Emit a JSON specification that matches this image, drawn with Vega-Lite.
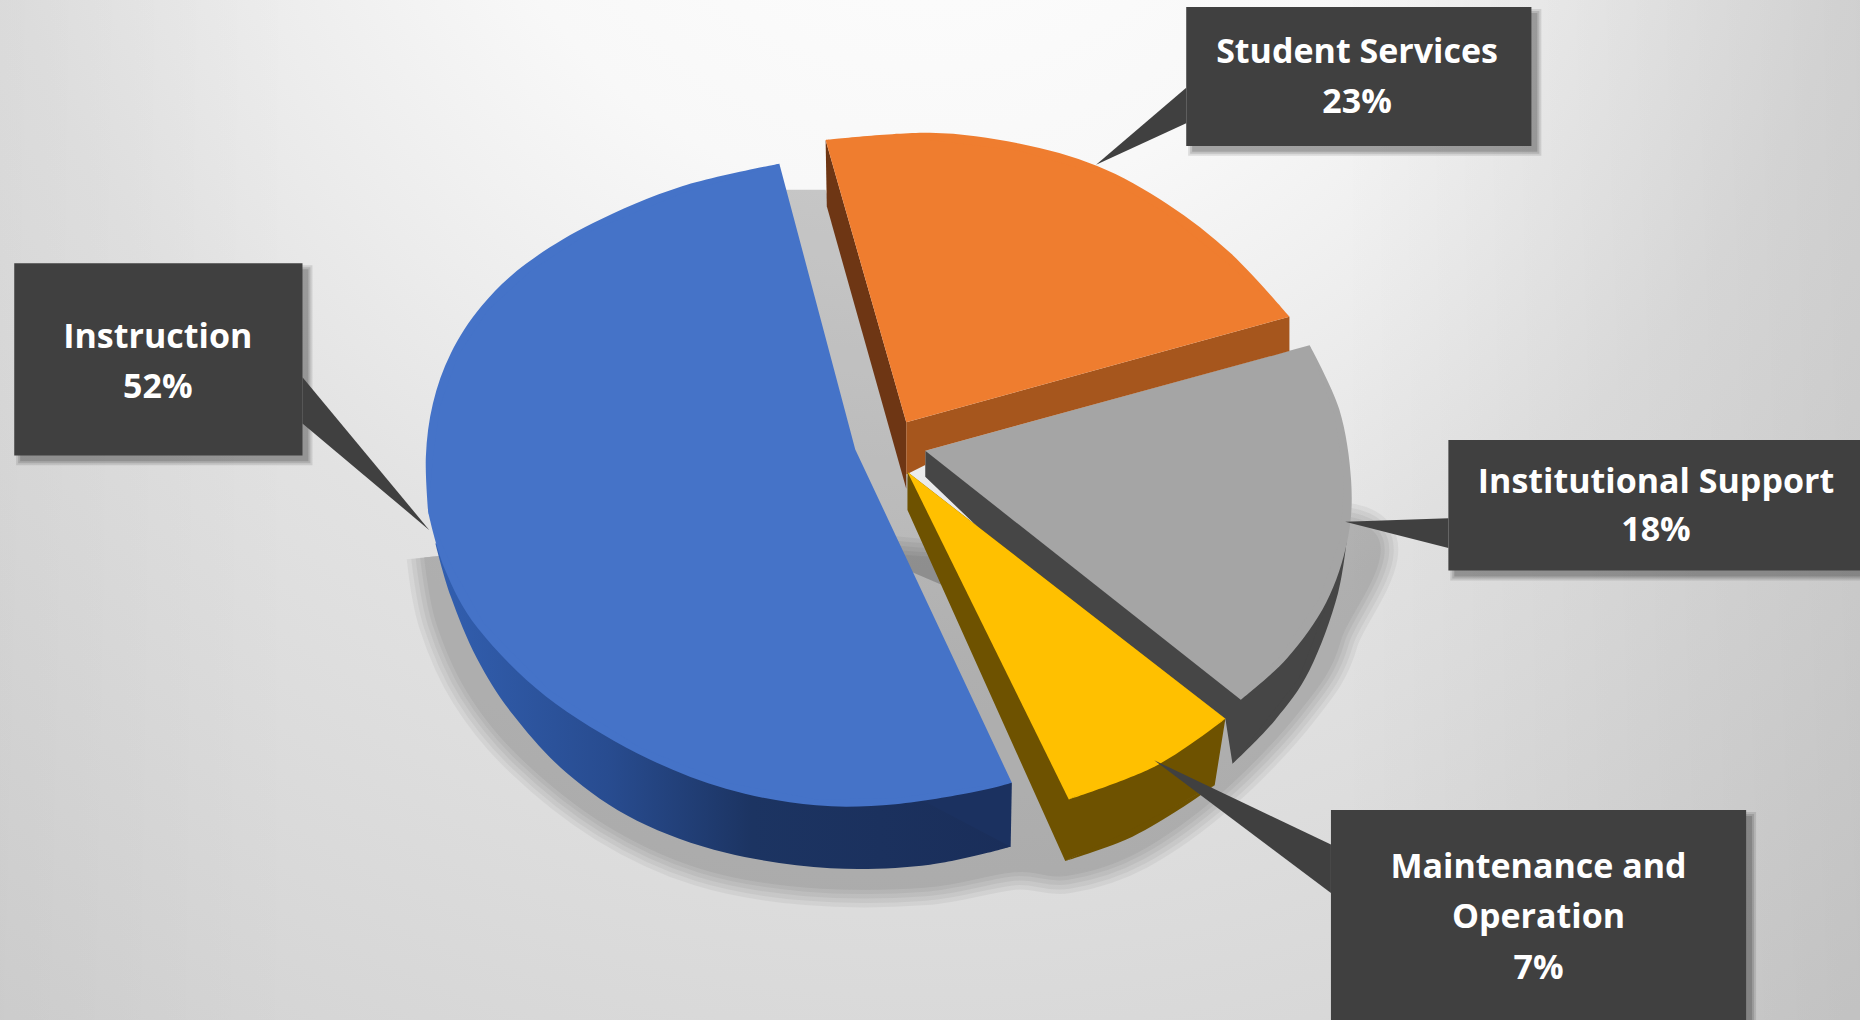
{"$schema":"https://vega.github.io/schema/vega-lite/v6.json","width":1860,"height":1020,"autosize":"none","padding":0,"background":"#ffffff","config":{"view":{"stroke":null}},
"datasets":{
"rects":[
{"part":"bg","x":0,"x2":1568,"y":0,"y2":860},
{"part":"boxShadow","x":17,"x2":260,"y":227,"y2":389},{"part":"boxShadow","x":1005,"x2":1296,"y":11,"y2":128},{"part":"boxShadow","x":1226,"x2":1568,"y":376,"y2":486},{"part":"boxShadow","x":1127,"x2":1477,"y":688,"y2":860},
{"part":"box","x":12,"x2":255,"y":222,"y2":384},{"part":"box","x":1000,"x2":1291,"y":6,"y2":123},{"part":"box","x":1221,"x2":1568,"y":371,"y2":481},{"part":"box","x":1122,"x2":1472,"y":683,"y2":860}],
"shapes":[
{"part":"shadow","i":1,"x":358,"y":470},{"part":"shadow","i":2,"x":368,"y":525},{"part":"shadow","i":3,"x":395,"y":585},{"part":"shadow","i":4,"x":440,"y":640},{"part":"shadow","i":5,"x":510,"y":695},{"part":"shadow","i":6,"x":590,"y":732},{"part":"shadow","i":7,"x":680,"y":748},{"part":"shadow","i":8,"x":780,"y":748},{"part":"shadow","i":9,"x":855,"y":735},{"part":"shadow","i":10,"x":900,"y":738},{"part":"shadow","i":11,"x":960,"y":718},{"part":"shadow","i":12,"x":1030,"y":668},{"part":"shadow","i":13,"x":1095,"y":600},{"part":"shadow","i":14,"x":1130,"y":540},{"part":"shadow","i":15,"x":1140,"y":440},{"part":"shadow","i":16,"x":800,"y":470},{"part":"shadow","i":17,"x":640,"y":440},
{"part":"gap","i":1,"x":650,"y":160},{"part":"gap","i":2,"x":696,"y":160},{"part":"gap","i":3,"x":764,"y":400},{"part":"gap","i":4,"x":810,"y":500},{"part":"gap","i":5,"x":740,"y":470},{"part":"gap","i":6,"x":700,"y":379},
{"part":"greySideArc","i":1,"x":1137,"y":440},{"part":"greySideArc","i":2,"x":1128,"y":500},{"part":"greySideArc","i":3,"x":1104,"y":565},{"part":"greySideArc","i":4,"x":1075,"y":607},{"part":"greySideArc","i":5,"x":1039,"y":644},
{"part":"greySide","i":1,"x":780,"y":380},{"part":"greySide","i":2,"x":780,"y":402},{"part":"greySide","i":3,"x":826,"y":446},{"part":"greySide","i":4,"x":1033,"y":606},{"part":"greySide","i":5,"x":1039,"y":644},{"part":"greySide","i":6,"x":1095,"y":572},{"part":"greySide","i":7,"x":1123,"y":498},{"part":"greySide","i":8,"x":1137,"y":440},
{"part":"greyArc","i":1,"x":1104,"y":291},{"part":"greyArc","i":2,"x":1129,"y":345},{"part":"greyArc","i":3,"x":1139,"y":405},{"part":"greyArc","i":4,"x":1136,"y":455},{"part":"greyArc","i":5,"x":1118,"y":508},{"part":"greyArc","i":6,"x":1085,"y":555},{"part":"greyArc","i":7,"x":1046,"y":590},
{"part":"grey","i":1,"x":780,"y":380},{"part":"grey","i":2,"x":1104,"y":291},{"part":"grey","i":3,"x":1125,"y":350},{"part":"grey","i":4,"x":1133,"y":405},{"part":"grey","i":5,"x":1130,"y":455},{"part":"grey","i":6,"x":1112,"y":505},{"part":"grey","i":7,"x":1080,"y":552},{"part":"grey","i":8,"x":1046,"y":590},
{"part":"orangeDark","i":1,"x":696,"y":118},{"part":"orangeDark","i":2,"x":764,"y":356},{"part":"orangeDark","i":3,"x":764,"y":412},{"part":"orangeDark","i":4,"x":697,"y":174},
{"part":"orangeFront","i":1,"x":764,"y":356},{"part":"orangeFront","i":2,"x":1087,"y":267},{"part":"orangeFront","i":3,"x":1087,"y":296},{"part":"orangeFront","i":4,"x":780,"y":380},{"part":"orangeFront","i":5,"x":780,"y":392},{"part":"orangeFront","i":6,"x":764,"y":400},
{"part":"orangeArc","i":1,"x":696,"y":118},{"part":"orangeArc","i":2,"x":784,"y":112},{"part":"orangeArc","i":3,"x":859,"y":121},{"part":"orangeArc","i":4,"x":925,"y":140},{"part":"orangeArc","i":5,"x":984,"y":172},{"part":"orangeArc","i":6,"x":1038,"y":214},{"part":"orangeArc","i":7,"x":1087,"y":267},
{"part":"orange","i":1,"x":764,"y":356},{"part":"orange","i":2,"x":696,"y":118},{"part":"orange","i":3,"x":784,"y":118},{"part":"orange","i":4,"x":859,"y":127},{"part":"orange","i":5,"x":925,"y":146},{"part":"orange","i":6,"x":980,"y":178},{"part":"orange","i":7,"x":1030,"y":218},{"part":"orange","i":8,"x":1087,"y":267},
{"part":"brownArc","i":1,"x":898,"y":726},{"part":"brownArc","i":2,"x":949,"y":708},{"part":"brownArc","i":3,"x":990,"y":685},{"part":"brownArc","i":4,"x":1024,"y":662},
{"part":"brown","i":1,"x":765,"y":398},{"part":"brown","i":2,"x":765,"y":430},{"part":"brown","i":3,"x":898,"y":726},{"part":"brown","i":4,"x":949,"y":702},{"part":"brown","i":5,"x":990,"y":680},{"part":"brown","i":6,"x":1024,"y":662},{"part":"brown","i":7,"x":1033,"y":606},
{"part":"yellowArc","i":1,"x":1033,"y":606},{"part":"yellowArc","i":2,"x":974,"y":646},{"part":"yellowArc","i":3,"x":901,"y":674},
{"part":"yellow","i":1,"x":765,"y":398},{"part":"yellow","i":2,"x":1033,"y":606},{"part":"yellow","i":3,"x":974,"y":640},{"part":"yellow","i":4,"x":901,"y":674},
{"part":"blueSideEnd","i":1,"x":690,"y":640},{"part":"blueSideEnd","i":2,"x":853,"y":660},{"part":"blueSideEnd","i":3,"x":852,"y":714},{"part":"blueSideEnd","i":4,"x":690,"y":725},
{"part":"blueSide","i":1,"x":367,"y":458},{"part":"blueSide","i":2,"x":380,"y":503},{"part":"blueSide","i":3,"x":402,"y":555},{"part":"blueSide","i":4,"x":432,"y":602},{"part":"blueSide","i":5,"x":478,"y":652},{"part":"blueSide","i":6,"x":537,"y":692},{"part":"blueSide","i":7,"x":612,"y":719},{"part":"blueSide","i":8,"x":700,"y":732},{"part":"blueSide","i":9,"x":784,"y":729},{"part":"blueSide","i":10,"x":852,"y":714},
{"part":"blueArcA","i":1,"x":657,"y":138},{"part":"blueArcA","i":2,"x":575,"y":157},{"part":"blueArcA","i":3,"x":500,"y":188},{"part":"blueArcA","i":4,"x":444,"y":222},{"part":"blueArcA","i":5,"x":406,"y":258},{"part":"blueArcA","i":6,"x":380,"y":298},{"part":"blueArcA","i":7,"x":365,"y":340},{"part":"blueArcA","i":8,"x":359,"y":385},{"part":"blueArcA","i":9,"x":361,"y":432},
{"part":"blueArcB","i":1,"x":361,"y":432},{"part":"blueArcB","i":2,"x":375,"y":480},{"part":"blueArcB","i":3,"x":403,"y":530},{"part":"blueArcB","i":4,"x":460,"y":587},{"part":"blueArcB","i":5,"x":537,"y":635},{"part":"blueArcB","i":6,"x":612,"y":665},{"part":"blueArcB","i":7,"x":688,"y":679},{"part":"blueArcB","i":8,"x":755,"y":678},{"part":"blueArcB","i":9,"x":820,"y":668},{"part":"blueArcB","i":10,"x":853,"y":660},
{"part":"blue","i":1,"x":657,"y":138},{"part":"blue","i":2,"x":575,"y":163},{"part":"blue","i":3,"x":500,"y":194},{"part":"blue","i":4,"x":448,"y":228},{"part":"blue","i":5,"x":411,"y":262},{"part":"blue","i":6,"x":386,"y":300},{"part":"blue","i":7,"x":371,"y":342},{"part":"blue","i":8,"x":365,"y":385},{"part":"blue","i":9,"x":361,"y":432},{"part":"blue","i":10,"x":381,"y":478},{"part":"blue","i":11,"x":408,"y":526},{"part":"blue","i":12,"x":463,"y":582},{"part":"blue","i":13,"x":539,"y":630},{"part":"blue","i":14,"x":613,"y":660},{"part":"blue","i":15,"x":688,"y":674},{"part":"blue","i":16,"x":755,"y":673},{"part":"blue","i":17,"x":820,"y":664},{"part":"blue","i":18,"x":853,"y":660},{"part":"blue","i":19,"x":753,"y":447},{"part":"blue","i":20,"x":721,"y":379},
{"part":"tailA","i":1,"x":255,"y":318},{"part":"tailA","i":2,"x":255,"y":357},{"part":"tailA","i":3,"x":362,"y":447},
{"part":"tailB","i":1,"x":1000,"y":74},{"part":"tailB","i":2,"x":1000,"y":104},{"part":"tailB","i":3,"x":924,"y":139},
{"part":"tailC","i":1,"x":1221,"y":437},{"part":"tailC","i":2,"x":1221,"y":462},{"part":"tailC","i":3,"x":1134,"y":440},
{"part":"tailD","i":1,"x":1122,"y":712},{"part":"tailD","i":2,"x":1122,"y":753},{"part":"tailD","i":3,"x":973,"y":641}],
"labels":[
{"x":1144,"y":45,"t":"Student Services"},{"x":1144,"y":87,"t":"23%"},
{"x":133,"y":285,"t":"Instruction"},{"x":133,"y":327,"t":"52%"},
{"x":1396,"y":407,"t":"Institutional  Support"},{"x":1396,"y":448,"t":"18%"},
{"x":1297,"y":732,"t":"Maintenance and"},{"x":1297,"y":774,"t":"Operation"},{"x":1297,"y":817,"t":"7%"}]},
"data":{"name":"shapes"},
"encoding":{
"x":{"field":"x","type":"quantitative","axis":null,"scale":{"domain":[0,1568],"nice":false,"zero":false}},
"y":{"field":"y","type":"quantitative","axis":null,"scale":{"domain":[860,0],"nice":false,"zero":false}},
"order":{"field":"i"}
},
"layer":[
{"data":{"name":"rects"},"transform":[{"filter":"datum.part==='bg'"}],"mark":{"type":"rect","color":{"gradient":"radial","x1":0.5,"y1":0.08,"r1":0,"x2":0.5,"y2":0.08,"r2":0.85,"stops":[{"offset":0,"color":"#ffffff"},{"offset":0.3,"color":"#f8f8f8"},{"offset":0.6,"color":"#e2e2e2"},{"offset":1,"color":"#d2d2d2"}]}},"encoding":{"x2":{"field":"x2"},"y2":{"field":"y2"}}},
{"data":{"name":"rects"},"transform":[{"filter":"datum.part==='bg'"}],"mark":{"type":"rect","color":{"gradient":"linear","x1":0,"y1":0,"x2":1,"y2":0,"stops":[{"offset":0,"color":"rgba(0,0,0,0.03)"},{"offset":0.16,"color":"rgba(0,0,0,0)"},{"offset":0.72,"color":"rgba(0,0,0,0)"},{"offset":1,"color":"rgba(0,0,0,0.08)"}]}},"encoding":{"x2":{"field":"x2"},"y2":{"field":"y2"}}},
{"transform":[{"filter":"datum.part==='gap'"}],"mark":{"type":"line","fill":"#000000","fillOpacity":0.2,"stroke":null}},
{"transform":[{"filter":"datum.part==='shadow'"}],"mark":{"type":"line","interpolate":"cardinal","fill":"#000000","stroke":"#000000","strokeWidth":36,"strokeJoin":"round","opacity":0.042}},
{"transform":[{"filter":"datum.part==='shadow'"}],"mark":{"type":"line","interpolate":"cardinal","fill":"#000000","stroke":"#000000","strokeWidth":27,"strokeJoin":"round","opacity":0.042}},
{"transform":[{"filter":"datum.part==='shadow'"}],"mark":{"type":"line","interpolate":"cardinal","fill":"#000000","stroke":"#000000","strokeWidth":18,"strokeJoin":"round","opacity":0.042}},
{"transform":[{"filter":"datum.part==='shadow'"}],"mark":{"type":"line","interpolate":"cardinal","fill":"#000000","stroke":"#000000","strokeWidth":9,"strokeJoin":"round","opacity":0.042}},
{"transform":[{"filter":"datum.part==='shadow'"}],"mark":{"type":"line","interpolate":"cardinal","fill":"#000000","stroke":"#000000","strokeWidth":1,"strokeJoin":"round","opacity":0.042}},
{"data":{"name":"rects"},"transform":[{"filter":"datum.part==='boxShadow'"}],"mark":{"type":"rect","color":"#000000","stroke":"#000000","strokeWidth":8,"opacity":0.1},"encoding":{"x2":{"field":"x2"},"y2":{"field":"y2"}}},
{"data":{"name":"rects"},"transform":[{"filter":"datum.part==='boxShadow'"}],"mark":{"type":"rect","color":"#000000","stroke":"#000000","strokeWidth":4,"opacity":0.12},"encoding":{"x2":{"field":"x2"},"y2":{"field":"y2"}}},
{"data":{"name":"rects"},"transform":[{"filter":"datum.part==='boxShadow'"}],"mark":{"type":"rect","color":"#000000","opacity":0.15},"encoding":{"x2":{"field":"x2"},"y2":{"field":"y2"}}},
{"transform":[{"filter":"datum.part==='greySideArc'"}],"mark":{"type":"line","interpolate":"cardinal","fill":"#464646","stroke":null}},
{"transform":[{"filter":"datum.part==='greySide'"}],"mark":{"type":"line","fill":"#464646","stroke":null}},
{"transform":[{"filter":"datum.part==='greyArc'"}],"mark":{"type":"line","interpolate":"cardinal","fill":"#a5a5a5","stroke":null}},
{"transform":[{"filter":"datum.part==='grey'"}],"mark":{"type":"line","fill":"#a5a5a5","stroke":null}},
{"transform":[{"filter":"datum.part==='orangeDark'"}],"mark":{"type":"line","fill":"#6e3614","stroke":null}},
{"transform":[{"filter":"datum.part==='orangeFront'"}],"mark":{"type":"line","fill":"#a6561d","stroke":null}},
{"transform":[{"filter":"datum.part==='orangeArc'"}],"mark":{"type":"line","interpolate":"cardinal","fill":"#ef7d2f","stroke":null}},
{"transform":[{"filter":"datum.part==='orange'"}],"mark":{"type":"line","fill":"#ef7d2f","stroke":null}},
{"transform":[{"filter":"datum.part==='brownArc'"}],"mark":{"type":"line","interpolate":"cardinal","fill":"#6e5200","stroke":null}},
{"transform":[{"filter":"datum.part==='brown'"}],"mark":{"type":"line","fill":"#6e5200","stroke":null}},
{"transform":[{"filter":"datum.part==='yellowArc'"}],"mark":{"type":"line","interpolate":"cardinal","fill":"#ffc000","stroke":null}},
{"transform":[{"filter":"datum.part==='yellow'"}],"mark":{"type":"line","fill":"#ffc000","stroke":null}},
{"transform":[{"filter":"datum.part==='blueSideEnd'"}],"mark":{"type":"line","fill":"#1b3160","stroke":null}},
{"transform":[{"filter":"datum.part==='blueSide'"}],"mark":{"type":"line","interpolate":"cardinal","fill":{"gradient":"linear","x1":0,"y1":0,"x2":1,"y2":0,"stops":[{"offset":0,"color":"#325fb0"},{"offset":0.3,"color":"#284c90"},{"offset":0.55,"color":"#1c3462"},{"offset":1,"color":"#1a2e5a"}]},"stroke":null}},
{"transform":[{"filter":"datum.part==='blueArcA'"}],"mark":{"type":"line","interpolate":"cardinal","fill":"#4573c8","stroke":null}},
{"transform":[{"filter":"datum.part==='blueArcB'"}],"mark":{"type":"line","interpolate":"cardinal","fill":"#4573c8","stroke":null}},
{"transform":[{"filter":"datum.part==='blue'"}],"mark":{"type":"line","fill":"#4573c8","stroke":null}},
{"transform":[{"filter":"datum.part==='tailA'"}],"mark":{"type":"line","fill":"#404040","stroke":null}},
{"transform":[{"filter":"datum.part==='tailB'"}],"mark":{"type":"line","fill":"#404040","stroke":null}},
{"transform":[{"filter":"datum.part==='tailC'"}],"mark":{"type":"line","fill":"#404040","stroke":null}},
{"transform":[{"filter":"datum.part==='tailD'"}],"mark":{"type":"line","fill":"#404040","stroke":null}},
{"data":{"name":"rects"},"transform":[{"filter":"datum.part==='box'"}],"mark":{"type":"rect","color":"#404040"},"encoding":{"x2":{"field":"x2"},"y2":{"field":"y2"}}},
{"data":{"name":"labels"},"mark":{"type":"text","color":"#ffffff","font":"Open Sans","fontWeight":700,"fontSize":34,"align":"center","baseline":"middle"},"encoding":{"text":{"field":"t"},"order":{"value":null}}}
]}
